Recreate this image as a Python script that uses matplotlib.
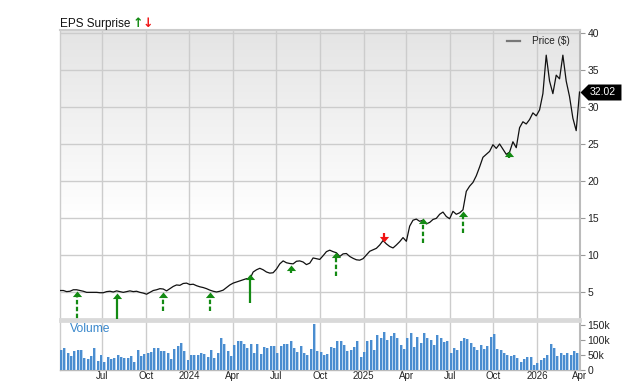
import numpy as np
import pandas as pd
import matplotlib
matplotlib.use('Agg')
import matplotlib.pyplot as plt
import matplotlib.dates as mdates

# ---------------- data ----------------
dates = pd.date_range(end='2026-03-31', periods=157, freq='7D')

price = [5.2,
    5.2, 5.05, 5.1, 5.3, 5.3, 5.2, 5.1, 4.95, 4.95, 4.95,
    4.95, 4.9, 4.9, 5.05, 5.1, 5.0, 5.15, 5.05, 4.95, 5.05,
    5.15, 5.05, 5.1, 4.95, 4.85, 4.7, 4.95, 5.2, 5.3, 5.45,
    5.4, 5.15, 5.45, 5.75, 5.95, 5.9, 6.15, 6.2, 6.0, 6.05,
    5.85, 5.7, 5.6, 5.45, 5.25, 5.1, 5.0, 5.1, 5.25, 5.6,
    5.95, 6.2, 6.35, 6.5, 6.65, 6.8, 6.75, 7.7, 8.0, 8.2,
    8.0, 7.7, 7.55, 7.6, 8.1, 8.8, 9.2, 8.95, 8.85, 8.8,
    9.15, 9.2, 9.05, 8.7, 8.9, 9.6, 9.5, 9.4, 9.9, 10.45,
    10.65, 10.45, 10.3, 9.8, 10.15, 10.2, 9.8, 9.55, 9.35, 9.3,
    9.5, 10.0, 10.5, 10.7, 10.9, 11.35, 11.95, 11.5, 11.15, 10.95,
    11.35, 11.8, 12.35, 11.85, 13.9, 14.7, 14.85, 14.55, 14.7, 14.2,
    14.4, 14.8, 14.95, 15.5, 15.8, 15.2, 14.9, 15.9, 15.5, 15.7,
    16.1, 18.6, 19.3, 19.8, 20.7, 21.9, 23.2, 23.6, 24.0, 24.9,
    24.4, 25.0, 24.3, 23.6, 23.9, 25.3, 24.5, 27.2, 28.0, 27.7,
    28.3, 29.2, 28.8, 29.6, 31.8, 37.0, 33.5, 31.8, 34.3, 33.8,
    37.0, 33.5, 31.4, 28.5, 26.8, 32.02]

volume_k = [68, 74, 57, 48, 64, 68, 68, 40, 37, 48,
    72, 30, 50, 28, 42, 35, 39, 50, 44, 39,
    40, 48, 28, 68, 46, 52, 58, 59, 73, 73,
    64, 64, 57, 35, 70, 81, 89, 64, 34, 50,
    50, 49, 57, 53, 44, 67, 39, 57, 107, 87,
    62, 46, 84, 96, 98, 87, 72, 86, 57, 86,
    53, 78, 72, 81, 79, 57, 81, 86, 85, 95,
    72, 59, 80, 57, 50, 70, 153, 63, 60,
    50, 53, 78, 72, 97, 95, 83, 62, 68, 77,
    98, 44, 59, 95, 101, 68, 115, 106, 125, 101,
    112, 122, 108, 84, 71, 107, 124, 75, 109, 90,
    122, 105, 101, 84, 115, 105, 92, 95, 57, 74,
    66, 97, 105, 103, 90, 77, 68, 84, 70, 80,
    110, 119, 70, 68, 57, 51, 47, 49, 39, 28,
    38, 43, 43, 18, 24, 34, 41, 50, 87, 73,
    48, 56, 51, 56, 51, 62, 56, 31]

eps_dates = pd.to_datetime(['2023-05-10', '2023-08-02', '2023-11-07', '2024-02-13',
                            '2024-05-08', '2024-08-02', '2024-11-05', '2025-02-12',
                            '2025-05-06', '2025-07-30', '2025-11-03'])
eps_tip = [5.18, 4.83, 5.04, 5.04, 7.43, 8.65, 10.45, 11.8, 14.96, 15.99, 24.05]
eps_tail = [0.5, 0.5, 2.47, 2.43, 3.55, 7.53, 7.16, 12.97, 11.66, 12.93, 23.07]
eps_kind = ['up', 'up', 'up', 'up', 'up', 'up', 'up', 'down', 'up', 'up', 'up']
eps_dashed = [True, False, True, True, False, False, True, False, True, True, False]

tick_dates = pd.to_datetime(['2023-07-01', '2023-10-01', '2024-01-01', '2024-04-01',
                             '2024-07-01', '2024-10-01', '2025-01-01', '2025-04-01',
                             '2025-07-01', '2025-10-01', '2026-01-01', '2026-04-01'])
tick_labels = ['Jul', 'Oct', '2024', 'Apr', 'Jul', 'Oct', '2025', 'Apr', 'Jul', 'Oct', '2026', 'Apr']
price_ticks = [5, 10, 15, 20, 25, 30, 35, 40]
vol_ticks = [0, 50000, 100000, 150000]
vol_tick_labels = ['0', '50k', '100k', '150k']
last_price = 32.02

# ---------------- style ----------------
plt.rcParams['font.family'] = ['Liberation Sans', 'DejaVu Sans']
GREEN = '#138a13'
RED = '#f01414'
GRID = '#cccccc'
VDARK = '#4a8dd0'
VLIGHT = '#b5d2ee'

W, H = 640, 382
fig = plt.figure(figsize=(W / 100, H / 100), dpi=100)

def frac(l, t, r, b):
    return [l / W, 1 - b / H, (r - l) / W, (b - t) / H]

ax = fig.add_axes(frac(60, 30, 580, 319))
axv = fig.add_axes(frac(60, 321, 580, 370), sharex=ax)

xmin, xmax = pd.Timestamp('2023-04-04'), pd.Timestamp('2026-04-01')
ax.set_xlim(xmin, xmax)
ax.set_ylim(1.35, 40.4)
axv.set_ylim(0, 163000)

# gradient background in price panel
grad_y = np.linspace(0, 1, 200)
shade = np.clip(1.0 - 0.105 * (grad_y - 0.35) / 0.65, 0.895, 1.0)
shade[grad_y < 0.35] = 1.0
img = np.repeat(shade[::-1, None, None], 3, axis=2)
ax.imshow(img, extent=[0, 1, 0, 1], transform=ax.transAxes, aspect='auto', zorder=0,
          interpolation='bilinear')

# grid
for a in (ax, axv):
    a.set_xticks(tick_dates)
    a.grid(axis='x', color=GRID, lw=1.0, zorder=1)
    a.set_axisbelow(True)
ax.set_yticks(price_ticks)
ax.grid(axis='y', color=GRID, lw=1.0, zorder=1)

# price line
ax.plot(dates, price, color='#111111', lw=0.9, zorder=4)

# EPS arrows
up_head = [(0, 0), (-0.5, -0.6), (0.5, -0.6), (0, 0)]
down_head = [(0, 0), (-0.5, 0.6), (0.5, 0.6), (0, 0)]
for d, tip, tail, kind, dashed in zip(eps_dates, eps_tip, eps_tail, eps_kind, eps_dashed):
    col = GREEN if kind == 'up' else RED
    ls = (0, (2.0, 1.1)) if dashed else '-'
    if kind == 'up':
        stem_end = tip - 0.45
        head = up_head
    else:
        stem_end = tip + 0.45
        head = down_head
    if abs(stem_end - tail) > 0.05:
        ax.plot([d, d], [tail, stem_end], color=col, lw=1.6, ls=ls,
                solid_capstyle='butt', dash_capstyle='butt', zorder=5)
    ax.plot([d], [tip], marker=head, ms=8, color=col, mec=col, mew=0, ls='none', zorder=6)

# volume bars (dark + light part)
bar_left = mdates.date2num(dates)
axv.bar(bar_left, [v * 1000 for v in volume_k], width=4.2, align='edge',
        color=VDARK, linewidth=0, zorder=3)
axv.bar(bar_left + 4.2, [v * 1000 for v in volume_k], width=2.1, align='edge',
        color=VLIGHT, linewidth=0, zorder=3)
axv.set_xlim(xmin, xmax)

# ticks / labels
ax.yaxis.tick_right()
axv.yaxis.tick_right()
for a in (ax, axv):
    a.tick_params(axis='y', length=3.5, width=0.8, color='#999999', labelsize=7.5,
                  labelcolor='#222222', pad=2)
    a.tick_params(axis='x', length=0, labelsize=7.0, labelcolor='#222222', pad=0.5)
ax.tick_params(axis='x', labelbottom=False)
ax.set_yticklabels([str(t) for t in price_ticks])
axv.set_yticks(vol_ticks)
axv.set_yticklabels(vol_tick_labels)
axv.set_xticklabels(tick_labels)

# spines
for name, sp in ax.spines.items():
    sp.set_color('#cccccc')
    sp.set_linewidth(1.0)
ax.spines['top'].set_linewidth(1.5)
ax.spines['right'].set_color('#bbbbbb')
ax.spines['right'].set_linewidth(1.5)
ax.spines['bottom'].set_color('#d9d9d9')
ax.spines['bottom'].set_linewidth(2.0)
for name, sp in axv.spines.items():
    sp.set_color('#cccccc')
    sp.set_linewidth(1.0)
axv.spines['top'].set_color('#d9d9d9')
axv.spines['top'].set_linewidth(2.0)
axv.spines['right'].set_color('#bbbbbb')
axv.spines['right'].set_linewidth(1.5)
axv.spines['bottom'].set_color('#bbbbbb')

# Volume label
axv.text(10 / 520, (370 - 329.5) / 49, 'Volume', transform=axv.transAxes,
         color='#3a88cc', fontsize=8.7, va='center', ha='left', zorder=6)

# legend
ax.plot([(507 - 60) / 520, (520 - 60) / 520], [(319 - 40.7) / 289] * 2,
        transform=ax.transAxes, color='#777777', lw=1.6, clip_on=False, zorder=7)
ax.text((532 - 60) / 520, (319 - 41.5) / 289, 'Price ($)', transform=ax.transAxes,
        fontsize=7.2, color='#222222', va='center', ha='left', zorder=7)

# last price tag
tag = [(0, 0), (8, 8), (41, 8), (41, -8), (8, -8), (0, 0)]
ax.plot([1.0], [last_price], transform=ax.get_yaxis_transform(), marker=tag, ms=59,
        color='black', mew=0, ls='none', clip_on=False, zorder=8)
ax.annotate(f'{last_price:.2f}', xy=(1.0, last_price), xycoords=ax.get_yaxis_transform(),
            xytext=(16, 0), textcoords='offset points', ha='center', va='center',
            color='white', fontsize=7.5, zorder=9, annotation_clip=False)

# title
fig.text(60 / W, 1 - 27 / H, 'EPS Surprise', fontsize=8.5, color='#111111', va='baseline', ha='left')
fig.text(133 / W, 1 - 27 / H, '↑', fontsize=9, color=GREEN, fontweight='bold',
         family='DejaVu Sans', va='baseline', ha='left')
fig.text(143 / W, 1 - 27 / H, '↓', fontsize=9, color=RED, fontweight='bold',
         family='DejaVu Sans', va='baseline', ha='left')

fig.savefig('out.png', dpi=100)
